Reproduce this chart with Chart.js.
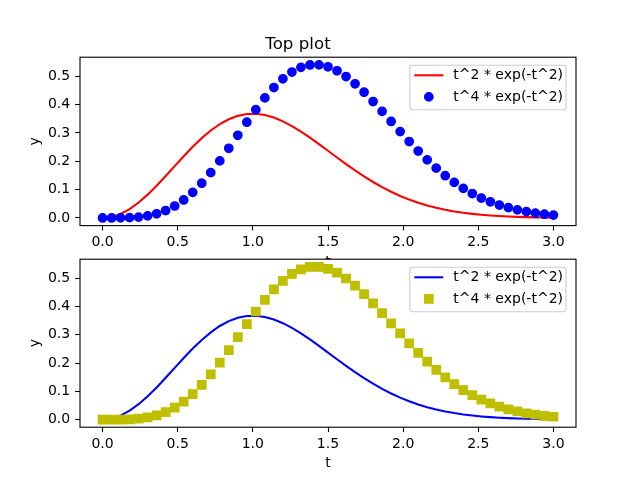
<!DOCTYPE html>
<html><head><meta charset="utf-8">
<script src="https://cdn.jsdelivr.net/npm/chart.js@4.4.1/dist/chart.umd.min.js"></script>
<style>
html,body{margin:0;padding:0;background:#fff;}
#wrap{position:relative;width:640px;height:480px;overflow:hidden;}
canvas{position:absolute;left:0;top:0;}
</style></head><body>
<div id="wrap"><canvas id="c1" width="640" height="480"></canvas><canvas id="c2" width="640" height="480"></canvas></div>
<script>
const tValues = [0,0.06,0.12,0.18,0.24,0.30,0.36,0.42,0.48,0.54,0.60,0.66,0.72,0.78,0.84,0.90,0.96,1.02,1.08,1.14,1.20,1.26,1.32,1.38,1.44,1.50,1.56,1.62,1.68,1.74,1.80,1.86,1.92,1.98,2.04,2.10,2.16,2.22,2.28,2.34,2.40,2.46,2.52,2.58,2.64,2.70,2.76,2.82,2.88,2.94,3.00];
const curveT2 = [0,0.0036,0.0142,0.0314,0.0544,0.0823,0.1138,0.1479,0.1830,0.2179,0.2512,0.2818,0.3087,0.3311,0.3484,0.3604,0.3667,0.3676,0.3633,0.3543,0.3411,0.3245,0.3051,0.2836,0.2607,0.2372,0.2135,0.1902,0.1678,0.1466,0.1269,0.1088,0.0924,0.0777,0.0648,0.0536,0.0440,0.0357,0.0287,0.0229,0.0181,0.0143,0.0111,0.0086,0.0066,0.0050,0.0038,0.0028,0.0021,0.0015,0.0011];
const curveT4 = [0,0.0000,0.0002,0.0010,0.0031,0.0074,0.0148,0.0261,0.0422,0.0635,0.0904,0.1227,0.1600,0.2014,0.2459,0.2919,0.3380,0.3824,0.4238,0.4604,0.4912,0.5152,0.5316,0.5400,0.5405,0.5336,0.5196,0.4992,0.4736,0.4439,0.4111,0.3764,0.3407,0.3048,0.2698,0.2363,0.2051,0.1759,0.1492,0.1256,0.1045,0.0862,0.0704,0.0570,0.0457,0.0363,0.0286,0.0223,0.0172,0.0131,0.0100];
const xTickValues = [0,0.5,1,1.5,2,2.5,3];
const xTickLabels = ['0.0','0.5','1.0','1.5','2.0','2.5','3.0'];
const yTickValues = [0,0.1,0.2,0.3,0.4,0.5];
const yTickLabels = ['0.0','0.1','0.2','0.3','0.4','0.5'];
const labelT2 = 't^2 * exp(-t^2)';
const labelT4 = 't^4 * exp(-t^2)';
const topTitle = 'Top plot';
const xTitle = 't';
const yTitle = 'y';

const FONT = "'DejaVu Sans', sans-serif";
const toPoints = (ys) => tValues.map((x, i) => ({x: x, y: ys[i]}));

function makeScales() {
  return {
    x: {
      type: 'linear', min: -0.15, max: 3.15,
      afterBuildTicks: s => { s.ticks = xTickValues.map(v => ({value: v})); },
      afterFit: s => { s.height = 50; },
      ticks: {color: '#000', font: {family: FONT, size: 14}, padding: 3.5, maxRotation: 0, autoSkip: false,
        callback: (v, i) => xTickLabels[i]},
      grid: {drawOnChartArea: false, drawTicks: true, tickLength: 4.9, tickWidth: 1.1, tickColor: '#000'},
      border: {display: false},
      title: {display: true, text: xTitle, color: '#000', font: {family: FONT, size: 14}, padding: {top: 0, bottom: 5.2}}
    },
    y: {
      type: 'linear', min: -0.027, max: 0.5675,
      afterBuildTicks: s => { s.ticks = yTickValues.map(v => ({value: v})); },
      afterFit: s => { s.width = 60; },
      ticks: {color: '#000', font: {family: FONT, size: 14}, padding: 4.9, autoSkip: false,
        callback: (v, i) => yTickLabels[i]},
      grid: {drawOnChartArea: false, drawTicks: true, tickLength: 4.9, tickWidth: 1.1, tickColor: '#000'},
      border: {display: false},
      title: {display: true, text: yTitle, color: '#000', font: {family: FONT, size: 14}, padding: {top: 6.6, bottom: 0}}
    }
  };
}

const framePlugin = {
  id: 'frameLegend',
  beforeDraw(chart) {
    const a = chart.chartArea, ctx = chart.ctx;
    ctx.save();
    ctx.fillStyle = '#fff';
    ctx.fillRect(a.left, a.top, a.right - a.left, a.bottom - a.top);
    ctx.restore();
  },
  afterDatasetsDraw(chart) {
    const a = chart.chartArea, ctx = chart.ctx;
    ctx.save();
    ctx.strokeStyle = '#000';
    ctx.lineWidth = 1.1;
    ctx.strokeRect(a.left, a.top, a.right - a.left, a.bottom - a.top);
    ctx.restore();
  },
  afterDraw(chart) {
    const a = chart.chartArea, ctx = chart.ctx;
    const ds = chart.data.datasets;
    ctx.save();
    ctx.font = "14px " + FONT;
    let tw = 0;
    ds.forEach(d => { tw = Math.max(tw, ctx.measureText(d.label).width); });
    const right = a.right - 10;
    const textX = right - 3 - tw;
    const hR = textX - 10, hL = hR - 29;
    const left = hL - 4.5;
    const top = a.top + 8, bottom = a.top + 52.5;
    const r = 2.8;
    ctx.beginPath();
    ctx.moveTo(left + r, top);
    ctx.lineTo(right - r, top); ctx.arcTo(right, top, right, top + r, r);
    ctx.lineTo(right, bottom - r); ctx.arcTo(right, bottom, right - r, bottom, r);
    ctx.lineTo(left + r, bottom); ctx.arcTo(left, bottom, left, bottom - r, r);
    ctx.lineTo(left, top + r); ctx.arcTo(left, top, left + r, top, r);
    ctx.closePath();
    ctx.fillStyle = 'rgba(255,255,255,0.8)';
    ctx.fill();
    ctx.strokeStyle = '#cccccc';
    ctx.lineWidth = 1.1;
    ctx.stroke();
    const rows = [a.top + 18.1, a.top + 39.7];
    ds.forEach((d, i) => {
      const cy = rows[i];
      const cx = (hL + hR) / 2;
      if (d.showLine) {
        ctx.beginPath();
        ctx.moveTo(hL, cy); ctx.lineTo(hR, cy);
        ctx.strokeStyle = d.borderColor; ctx.lineWidth = d.borderWidth;
        ctx.stroke();
      } else {
        ctx.fillStyle = d.pointBackgroundColor; ctx.strokeStyle = d.pointBorderColor; ctx.lineWidth = d.pointBorderWidth;
        ctx.beginPath();
        if (d.pointStyle === 'rect') {
          const s = Math.SQRT1_2 * d.pointRadius;
          ctx.rect(cx - s, cy - s, 2 * s, 2 * s);
        } else {
          ctx.arc(cx, cy, d.pointRadius, 0, Math.PI * 2);
        }
        ctx.fill(); ctx.stroke();
      }
      ctx.fillStyle = '#000';
      ctx.textBaseline = 'middle';
      ctx.textAlign = 'left';
      ctx.fillText(d.label, textX, cy);
    });
    ctx.restore();
  }
};

function makeChart(id, lineColor, markColor, markStyle, markRadius, withTitle, padding) {
  return new Chart(document.getElementById(id), {
    type: 'scatter',
    data: {
      datasets: [
        {label: labelT2, data: toPoints(curveT2), showLine: true, borderColor: lineColor, backgroundColor: lineColor,
          borderWidth: 2.08, pointRadius: 0, tension: 0, fill: false, order: 2},
        {label: labelT4, data: toPoints(curveT4), showLine: false, pointStyle: markStyle, pointRadius: markRadius,
          pointBackgroundColor: markColor, pointBorderColor: markColor, pointBorderWidth: 1.4,
          borderColor: markColor, backgroundColor: markColor, order: 1}
      ]
    },
    options: {
      responsive: false, animation: false, devicePixelRatio: 1,
      layout: {padding: padding},
      scales: makeScales(),
      plugins: {
        legend: {display: false},
        tooltip: {enabled: false},
        title: {display: withTitle, text: topTitle, color: '#000', font: {family: FONT, size: 16.67, weight: 'normal'},
          padding: {top: 35, bottom: 2.2}}
      },
      events: []
    },
    plugins: [framePlugin]
  });
}

makeChart('c1', '#ff0000', '#0000ff', 'circle', 4.17, true, {left: 20, right: 64, top: 0, bottom: 204.4});
makeChart('c2', '#0000ff', '#bfbf00', 'rect', 5.89, false, {left: 20, right: 64, top: 259.2, bottom: 2.8});
</script>
</body></html>
